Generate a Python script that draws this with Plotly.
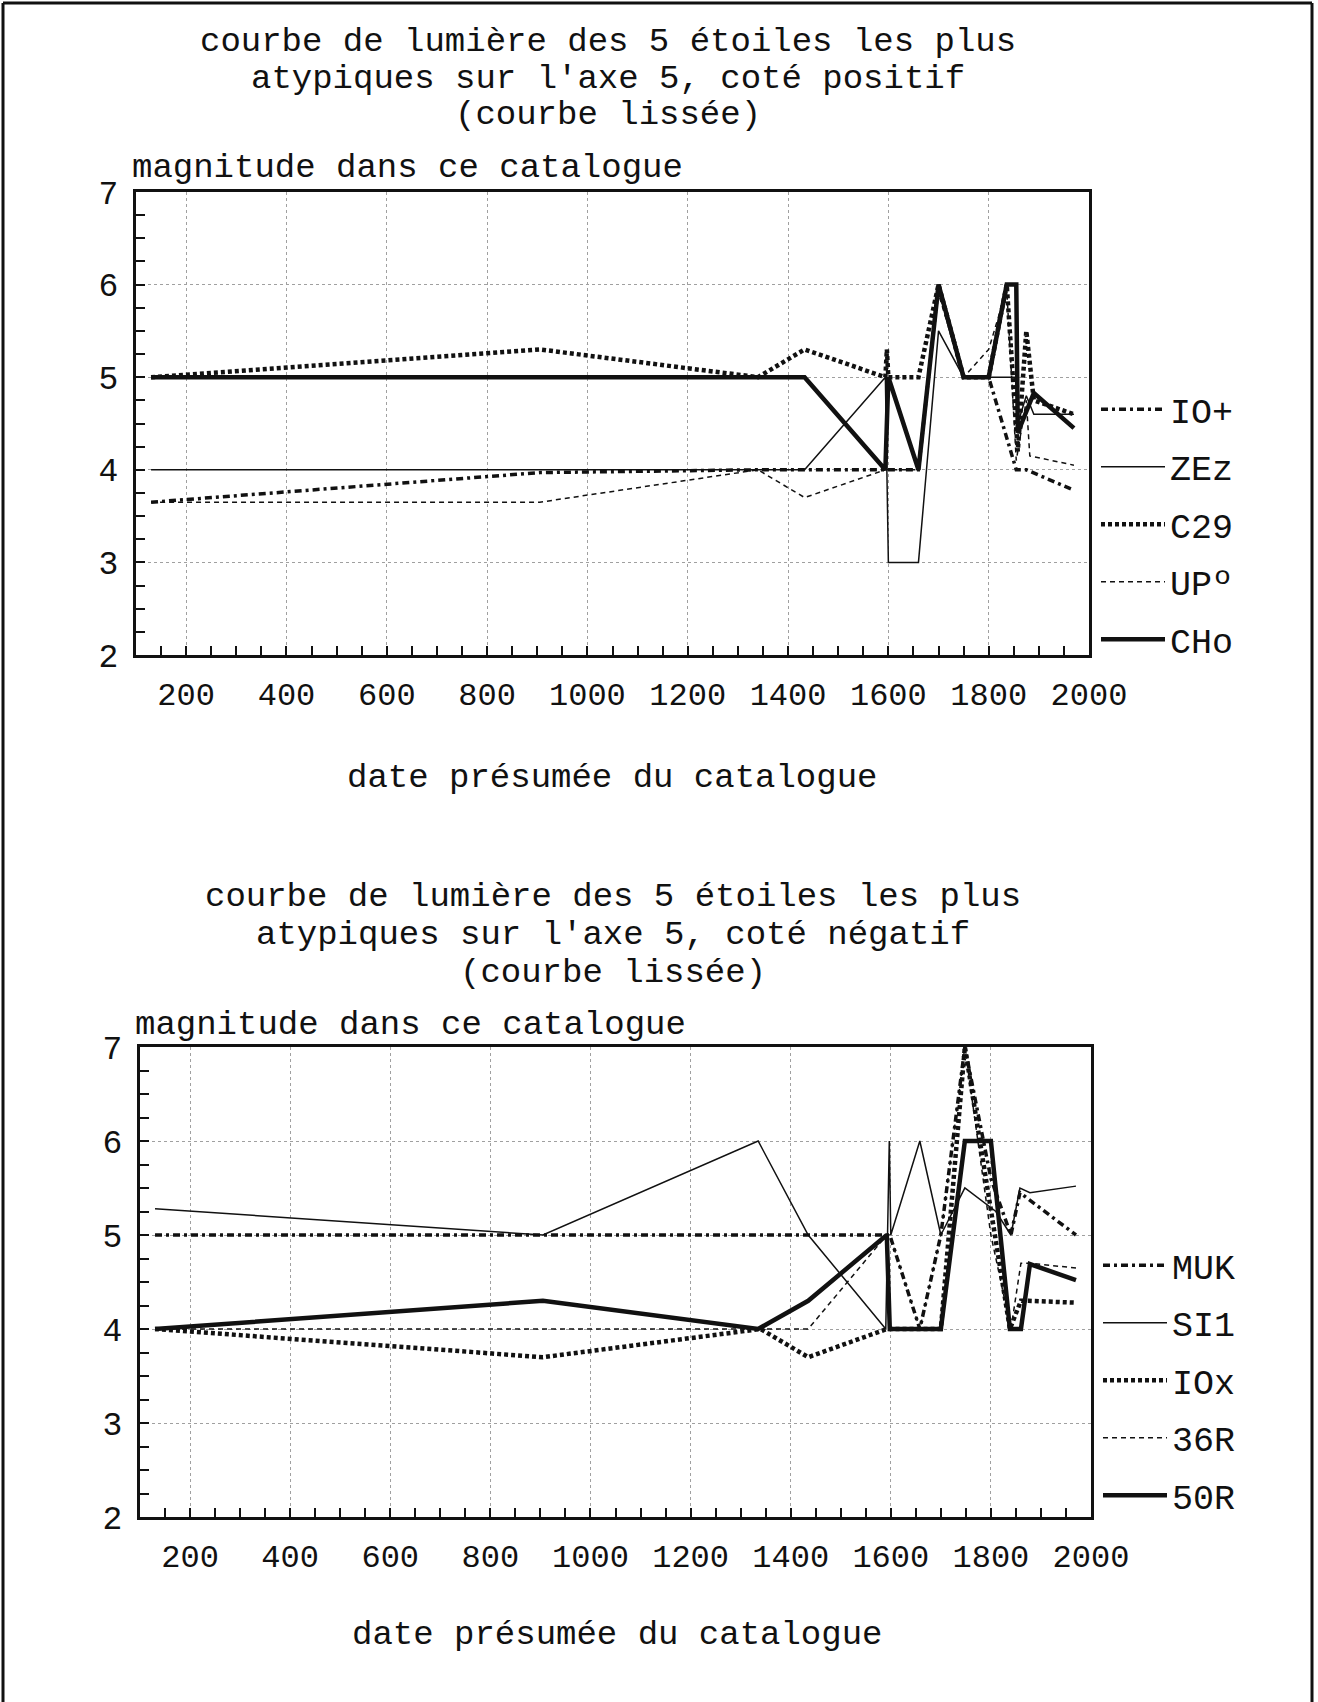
import plotly.graph_objects as go

# ---------------- data ----------------
x_tick_values = [200, 400, 600, 800, 1000, 1200, 1400, 1600, 1800, 2000]
x_tick_labels = ["200", "400", "600", "800", "1000", "1200", "1400", "1600", "1800", "2000"]
y_tick_values = [2, 3, 4, 5, 6, 7]
y_tick_labels = ["2", "3", "4", "5", "6", "7"]

top_title_lines = ["courbe de lumière des 5 étoiles les plus",
                   "atypiques sur l'axe 5, coté positif",
                   "(courbe lissée)"]
bottom_title_lines = ["courbe de lumière des 5 étoiles les plus",
                      "atypiques sur l'axe 5, coté négatif",
                      "(courbe lissée)"]
y_axis_title = "magnitude dans ce catalogue"
x_axis_title = "date présumée du catalogue"

# top chart (positive side)
top_names = ["IO+", "ZEz", "C29", "UPº", "CHo"]
io_plus_years = [130, 905, 1340, 1433, 1594, 1660, 1700, 1750, 1800, 1855, 1875, 1970]
io_plus_mag = [3.65, 3.97, 4.0, 4.0, 4.0, 4.0, 6.0, 5.0, 5.0, 4.0, 4.0, 3.78]
zez_years = [130, 905, 1340, 1433, 1594, 1600, 1660, 1700, 1750, 1800, 1836, 1855, 1858, 1875, 1890, 1970]
zez_mag = [4.0, 4.0, 4.0, 4.0, 5.0, 3.0, 3.0, 5.5, 5.0, 5.0, 5.0, 5.0, 4.5, 4.8, 4.6, 4.6]
c29_years = [130, 905, 1340, 1433, 1594, 1597, 1600, 1660, 1700, 1750, 1800, 1836, 1858, 1875, 1890, 1970]
c29_mag = [5.0, 5.3, 5.0, 5.3, 5.0, 5.3, 5.0, 5.0, 6.0, 5.0, 5.0, 6.0, 4.2, 5.5, 4.75, 4.6]
upo_years = [130, 905, 1340, 1433, 1594, 1660, 1700, 1750, 1800, 1836, 1855, 1875, 1882, 1970]
upo_mag = [3.65, 3.65, 4.0, 3.7, 4.0, 4.0, 5.9, 5.0, 5.3, 5.95, 4.1, 4.75, 4.15, 4.05]
cho_years = [130, 905, 1340, 1433, 1594, 1600, 1660, 1700, 1750, 1800, 1836, 1855, 1858, 1890, 1970]
cho_mag = [5.0, 5.0, 5.0, 5.0, 4.0, 5.0, 4.0, 6.0, 5.0, 5.0, 6.0, 6.0, 4.4, 4.83, 4.45]

# bottom chart (negative side)
bottom_names = ["MUK", "SI1", "IOx", "36R", "50R"]
muk_years = [130, 905, 1340, 1435, 1598, 1658, 1700, 1748, 1800, 1840, 1858, 1970]
muk_mag = [5.0, 5.0, 5.0, 5.0, 5.0, 4.0, 5.0, 7.0, 5.6, 5.0, 5.45, 5.0]
si1_years = [130, 905, 1335, 1435, 1590, 1597, 1600, 1658, 1700, 1748, 1810, 1840, 1858, 1878, 1970]
si1_mag = [5.28, 5.0, 6.0, 5.0, 4.0, 6.0, 5.0, 6.0, 5.0, 5.5, 5.25, 5.0, 5.5, 5.45, 5.52]
iox_years = [130, 905, 1340, 1435, 1592, 1658, 1700, 1748, 1800, 1838, 1860, 1875, 1970]
iox_mag = [4.0, 3.7, 4.0, 3.7, 4.0, 4.0, 4.0, 7.0, 5.3, 4.0, 4.3, 4.3, 4.28]
r36_years = [130, 905, 1340, 1435, 1592, 1598, 1658, 1700, 1748, 1800, 1840, 1860, 1875, 1970]
r36_mag = [4.0, 4.0, 4.0, 4.0, 5.0, 5.0, 4.0, 5.0, 7.0, 5.0, 4.0, 4.7, 4.7, 4.65]
r50_years = [130, 905, 1335, 1435, 1592, 1598, 1700, 1748, 1800, 1838, 1860, 1878, 1970]
r50_mag = [4.0, 4.3, 4.0, 4.3, 5.0, 4.0, 4.0, 6.0, 6.0, 4.0, 4.0, 4.69, 4.52]

# ---------------- styling ----------------
W, H = 1318, 1702
FONT = "Liberation Mono"
INK = "#111111"
line_styles = [
    dict(width=3.5, dash="7px,4px,3px,4px"),  # dash-dot, heavy
    dict(width=1.5, dash="solid"),             # thin solid
    dict(width=4.5, dash="4px,3px"),           # heavy dotted
    dict(width=1.5, dash="5px,4px"),           # thin dashed
    dict(width=4.5, dash="solid"),             # heavy solid
]


def px(p):
    return p / W


def py(p):
    return 1 - p / H


fig = go.Figure()

top_series = [(io_plus_years, io_plus_mag), (zez_years, zez_mag), (c29_years, c29_mag),
              (upo_years, upo_mag), (cho_years, cho_mag)]
bottom_series = [(muk_years, muk_mag), (si1_years, si1_mag), (iox_years, iox_mag),
                 (r36_years, r36_mag), (r50_years, r50_mag)]

for i, (name, (xs, ys)) in enumerate(zip(top_names, top_series)):
    fig.add_trace(go.Scatter(x=xs, y=ys, name=name, mode="lines", xaxis="x", yaxis="y",
                             legend="legend", legendgroup="t" + str(i),
                             line=dict(color=INK, **line_styles[i])))
for i, (name, (xs, ys)) in enumerate(zip(bottom_names, bottom_series)):
    fig.add_trace(go.Scatter(x=xs, y=ys, name=name, mode="lines", xaxis="x2", yaxis="y2",
                             legend="legend2", legendgroup="b" + str(i),
                             line=dict(color=INK, **line_styles[i])))

x_axis_common = dict(
    range=[100, 2000], tickmode="array", tickvals=x_tick_values, ticktext=x_tick_labels,
    showgrid=True, gridcolor="#a0a0a0", griddash="dot", gridwidth=1,
    showline=True, linecolor=INK, linewidth=3, mirror=True,
    ticks="inside", ticklen=9, tickwidth=2, tickcolor=INK,
    minor=dict(ticks="inside", dtick=50, tick0=100, ticklen=9, tickwidth=2, tickcolor=INK, showgrid=False),
    tickfont=dict(family=FONT, size=32, color=INK), ticklabelstandoff=9,
    zeroline=False, fixedrange=True, automargin=False,
)
y_axis_common = dict(
    range=[2, 7], tickmode="array", tickvals=y_tick_values, ticktext=y_tick_labels,
    showgrid=True, gridcolor="#a0a0a0", griddash="dot", gridwidth=1,
    showline=True, linecolor=INK, linewidth=3, mirror=True,
    ticks="inside", ticklen=9, tickwidth=2, tickcolor=INK,
    minor=dict(ticks="inside", dtick=0.25, tick0=2, ticklen=9, tickwidth=2, tickcolor=INK, showgrid=False),
    tickfont=dict(family=FONT, size=33, color=INK), ticklabelstandoff=8,
    zeroline=False, fixedrange=True, automargin=False,
)

legend_common = dict(
    font=dict(family=FONT, size=35, color=INK), bgcolor="rgba(0,0,0,0)",
    borderwidth=0, tracegroupgap=9, itemwidth=64, xanchor="left", yanchor="top",
    traceorder="grouped",
)

annotations = []
for k, line in enumerate(top_title_lines):
    annotations.append(dict(text=line, x=px(608), y=py([42, 79, 115][k]), xref="paper", yref="paper",
                            xanchor="center", yanchor="middle", showarrow=False,
                            font=dict(family=FONT, size=34, color=INK)))
for k, line in enumerate(bottom_title_lines):
    annotations.append(dict(text=line, x=px(613), y=py([897, 935, 973][k]), xref="paper", yref="paper",
                            xanchor="center", yanchor="middle", showarrow=False,
                            font=dict(family=FONT, size=34, color=INK)))
for (xl, yc) in [(130, 168), (133, 1025)]:
    annotations.append(dict(text=y_axis_title, x=px(xl), y=py(yc), xref="paper", yref="paper",
                            xanchor="left", yanchor="middle", showarrow=False,
                            font=dict(family=FONT, size=34, color=INK)))
for (xc, yc) in [(612, 778), (617, 1635)]:
    annotations.append(dict(text=x_axis_title, x=px(xc), y=py(yc), xref="paper", yref="paper",
                            xanchor="center", yanchor="middle", showarrow=False,
                            font=dict(family=FONT, size=34, color=INK)))

frame = [
    dict(type="line", xref="paper", yref="paper", x0=px(3), x1=px(3), y0=py(3), y1=py(1702),
         line=dict(color=INK, width=3)),
    dict(type="line", xref="paper", yref="paper", x0=px(3), x1=px(1312), y0=py(3), y1=py(3),
         line=dict(color=INK, width=3)),
    dict(type="line", xref="paper", yref="paper", x0=px(1312), x1=px(1312), y0=py(3), y1=py(1702),
         line=dict(color=INK, width=3)),
]

fig.update_layout(
    template="none",
    width=W, height=H, autosize=False,
    margin=dict(l=0, r=0, t=0, b=0, pad=0),
    paper_bgcolor="white", plot_bgcolor="white",
    showlegend=True,
    xaxis=dict(domain=[px(136), px(1089)], anchor="y", **x_axis_common),
    yaxis=dict(domain=[py(655), py(192)], anchor="x", **y_axis_common),
    xaxis2=dict(domain=[px(140), px(1091)], anchor="y2", **x_axis_common),
    yaxis2=dict(domain=[py(1517), py(1047)], anchor="x2", **y_axis_common),
    legend=dict(x=px(1096), y=py(380), **legend_common),
    legend2=dict(x=px(1098), y=py(1236), **legend_common),
    annotations=annotations,
    shapes=frame,
)

fig.write_html("out.html", config={"responsive": False, "displayModeBar": False},
               post_script="document.body.style.margin='0';")
